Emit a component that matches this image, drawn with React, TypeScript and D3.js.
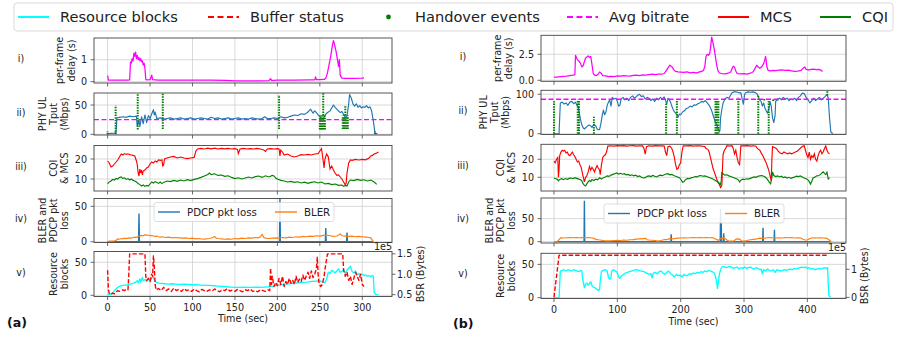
import React, { useEffect } from 'react';
import * as d3 from 'd3';

type Pt = [number, number];
type Ho = [number, number, number];

// ---------------- (a) data, time in sec ----------------
const delayA: Pt[] = [[0,0.28],[1,0.07],[4,0.07],[8,0.07],[16,0.07],[24,0.07],[26,0.08],[27,0.9],[28,0.85],[29,1.05],[30,0.95],[31,1.3],[32,1.15],[33,1.35],[34,1.05],[35,1.2],[36,1.0],[37,1.1],[38,0.95],[39,1.05],[40,0.9],[41,0.95],[42,0.75],[43,0.85],[44,0.6],[45,0.1],[46,0.08],[50,0.09],[52,0.3],[53,0.09],[56,0.08],[60,0.07],[80,0.07],[100,0.07],[120,0.07],[140,0.06],[150,0.04],[160,0.04],[180,0.04],[190,0.05],[192,0.14],[193,0.06],[195,0.06],[200,0.07],[220,0.07],[240,0.08],[244,0.08],[245,0.22],[246,0.09],[250,0.09],[255,0.1],[257,0.15],[259,0.4],[261,0.8],[263,1.2],[265,1.7],[266,1.87],[267,1.75],[269,1.4],[271,0.95],[272,0.7],[273,1.0],[274,0.3],[276,0.16],[280,0.15],[290,0.15],[300,0.16],[302,0.17]];

const tputA: Pt[] = [[0,1],[4,1.5],[8,2],[10,3],[11,28],[14,29],[18,30],[22,29],[26,31],[30,30],[34,31],[35,14],[37,25],[38,13],[40,30],[42,18],[44,33],[46,20],[48,32],[50,27],[52,35],[54,42],[55,33],[56,38],[58,27],[62,28],[66,26],[70,27],[74,28],[78,26],[82,27],[86,28],[90,26],[94,27],[98,28],[102,26],[106,27],[110,28],[114,27],[118,26],[122,29],[126,27],[130,28],[134,26],[138,27],[142,28],[146,26],[150,27],[154,28],[158,26],[162,27],[166,26],[170,28],[174,27],[178,26],[182,27],[185,30],[188,27],[192,27],[196,28],[200,27],[204,30],[208,28],[212,29],[216,31],[220,33],[224,32],[228,35],[232,34],[236,38],[239,43],[242,36],[244,40],[246,37],[248,33],[250,30],[252,28],[254,26],[256,32],[258,36],[260,38],[262,40],[264,45],[266,50],[268,46],[270,43],[272,40],[274,37],[276,39],[278,34],[280,29],[282,31],[284,52],[285,68],[287,62],[289,52],[291,48],[293,52],[295,46],[297,49],[299,45],[301,47],[303,46],[305,49],[307,45],[309,47],[311,40],[313,23],[315,2],[318,1]];

const hoA: Ho[] = [[0,0,5],[9.5,0,49],[35.5,8,70],[65,9,70],[202,9,67],[254,32,70],[250,8,32],[251.5,8,32],[253,8,32],[254.5,8,32],[256,8,32],[280,32,49],[277,9,32],[278.5,9,32],[280,9,32],[281.5,9,32],[283,9,32],[315,0,5]];

const mcsA: Pt[] = [[0,19],[2,18],[4,16],[6,16.5],[8,17.5],[10,18.5],[12,19.5],[14,21],[16,22.5],[18,22],[20,22.7],[22,22.3],[24,22.6],[26,22.2],[28,22],[30,21.8],[32,21.5],[34,19],[35,17],[36,13],[37,11.5],[38,15],[39,13],[40,14.5],[41,12],[42,14],[44,14.5],[46,15.5],[48,16],[50,17.5],[52,18.5],[54,18],[56,19],[58,18.5],[60,19.5],[62,19.3],[64,19.5],[65,16.5],[66,17],[67,20],[70,20.5],[74,21],[78,21.3],[82,20.5],[86,21],[90,20.5],[94,20.2],[98,20.5],[102,20.8],[104,24],[106,25],[110,25.3],[114,25],[118,25.4],[122,25.1],[126,25.4],[130,25],[134,25.3],[138,25.1],[142,25.3],[146,25],[150,25.2],[153,24.8],[154,22.7],[156,25],[160,25.3],[164,25],[168,25.2],[172,25],[176,25.3],[180,25],[184,24.5],[186,23.8],[188,25],[192,25.2],[196,25],[200,25.2],[202,25],[203,21.5],[204,24.5],[206,23.5],[208,22],[212,22.5],[216,21.5],[220,21],[224,21.5],[228,22.2],[232,22],[236,22.3],[240,22],[244,22.5],[248,22.7],[250,24],[252,25.2],[253,22],[254,19],[255,15.5],[256,20],[258,22.5],[260,21],[261,18],[262,15],[264,16.5],[266,14.5],[268,13],[270,11.8],[272,12],[274,11],[276,10],[278,8.5],[280,7],[281,8],[282,13],[284,18],[286,19.5],[288,19.3],[292,19.8],[296,19.5],[300,19.8],[304,19.6],[308,20.5],[310,21.5],[312,21.8],[314,22.5],[316,22.8],[319,23.5]];

const cqiA: Pt[] = [[0,7.5],[2,8.5],[4,9],[6,9.8],[8,9.5],[10,10.3],[12,10],[14,10.8],[16,11],[18,10.3],[20,10.6],[22,9.8],[24,10.2],[26,9.5],[28,10],[30,9.3],[32,9],[34,8.5],[36,7.7],[38,7.2],[40,6.5],[42,7],[44,6.3],[46,6.8],[48,6.5],[50,7.5],[52,8.5],[54,8],[56,8.7],[58,8.2],[60,7.8],[62,8.5],[64,7.7],[66,8.3],[70,9],[74,8.7],[78,9.3],[82,8.8],[86,9.5],[90,9],[94,9.7],[98,9.2],[102,9.8],[106,10.2],[110,10.8],[114,11.5],[118,12.3],[120,13],[122,12.2],[126,12.6],[130,11.8],[134,12],[138,11.3],[142,11.6],[146,10.8],[150,10.2],[154,10.6],[158,10],[162,10.5],[166,11],[170,10.5],[174,11.2],[178,11.5],[182,10.8],[186,11.6],[190,11],[194,11.8],[196,11.5],[198,10.5],[200,10],[204,9.3],[208,9],[212,8.5],[216,8.8],[220,8.3],[224,8.6],[228,8],[232,8.4],[236,7.8],[240,8.3],[244,8.6],[248,8],[252,8.5],[256,7.5],[260,7.8],[264,7.2],[268,7.5],[272,6.8],[276,7],[278,6.3],[280,6.8],[282,6.5],[284,8.5],[286,9.5],[290,9.2],[294,9.8],[298,9.3],[302,9.6],[306,9],[310,9.5],[314,8.5],[317,7.3]];

const pdcpA: Pt[] = [[0,0],[36.5,0],[37,40],[37.5,0],[202.5,0],[203,61],[203.5,0],[256.5,0],[257,19.5],[257.5,0],[281.5,0],[282,13],[282.5,0],[313,0]];

const blerA: Pt[] = [[0,0.5],[4,0.8],[8,1],[10,2],[12,4],[14,3.5],[16,4.5],[18,4],[20,5],[22,4.5],[24,5],[26,5.5],[28,5],[30,6],[32,6.5],[34,6],[36,7.5],[38,8],[40,9],[42,8.5],[44,10],[46,9],[48,9.5],[50,8.5],[52,9],[54,8],[56,7.5],[58,8],[60,7],[62,6.5],[64,7],[68,6],[72,6.5],[76,5.5],[80,6],[84,5.5],[88,5],[92,5.5],[96,4.5],[100,5],[104,4],[108,4.5],[112,3.5],[116,4],[120,4.5],[124,6],[126,7.5],[128,5],[130,4.5],[134,4],[138,3.5],[142,4],[146,3.5],[150,4.5],[154,4],[158,5],[162,4.5],[166,5.5],[170,5],[174,6],[178,5.5],[180,7],[182,10.5],[184,6],[186,5],[190,4.5],[194,5],[198,5.5],[202,5],[206,6],[210,5.5],[214,6.5],[218,6],[222,7],[226,6.5],[230,7.5],[234,7],[238,8],[242,7.5],[246,8.5],[250,8],[254,9],[258,9.5],[262,8.5],[266,7.5],[270,8],[272,9.5],[274,11],[276,8.5],[280,8],[284,7.5],[288,8],[292,7],[296,7.5],[300,7],[304,6.5],[308,6],[310,5.5],[312,2],[313,0.5]];

const rbA: Pt[] = [[0,1],[3,1.5],[5,3],[7,5],[9,8],[11,11],[13,13],[15,14],[18,15],[21,15.5],[24,16],[27,17],[30,18],[33,20],[35,22],[36,19],[38,25],[39,20],[41,27],[42,22],[44,24],[46,21],[48,24],[50,22],[52,26],[54,28],[55,23],[57,20],[60,18.5],[64,18],[68,17.5],[72,17],[76,17.5],[80,17],[85,16.5],[90,17],[95,16.5],[100,16],[105,16],[110,15.5],[115,15],[120,15],[125,14.5],[130,14],[135,13.5],[140,13],[145,12.5],[150,12],[155,12],[160,12.5],[165,12],[170,12],[175,12.5],[180,12],[185,12.5],[190,13],[195,14],[200,15],[205,16],[210,17],[215,17.5],[220,18.5],[225,19],[230,19.5],[235,20],[240,21],[245,21.5],[250,22],[253,20],[256,19],[258,25],[260,35],[262,33],[264,38],[266,36],[268,34],[270,37],[272,40],[274,35],[276,36],[278,39],[280,33],[282,38],[284,41],[286,44],[288,36],[290,34],[292,37],[294,31],[296,33],[298,31],[300,32],[302,30],[304,31],[306,29],[308,30],[310,28],[312,30],[313,29],[314,4],[316,1],[319,1]];

const bsrA: Pt[] = [[0,1.1],[1,0.62],[2,0.53],[4,0.5],[6,0.54],[8,0.52],[10,0.56],[12,0.6],[14,0.58],[16,0.6],[18,0.62],[20,0.6],[22,0.63],[24,0.62],[25,1.0],[26,1.5],[44,1.5],[45,0.95],[46,0.85],[48,0.9],[50,0.82],[52,1.0],[53,0.95],[54,1.45],[55,1.2],[56,0.75],[57,0.62],[60,0.65],[63,0.6],[66,0.68],[69,0.6],[72,0.64],[75,0.58],[78,0.66],[81,0.6],[84,0.63],[87,0.58],[90,0.65],[93,0.6],[96,0.62],[99,0.58],[102,0.64],[105,0.6],[108,0.57],[111,0.63],[114,0.6],[117,0.58],[120,0.62],[123,0.59],[126,0.64],[129,0.6],[132,0.57],[135,0.62],[138,0.6],[141,0.65],[144,0.59],[147,0.61],[150,0.58],[153,0.63],[156,0.6],[159,0.57],[162,0.62],[165,0.6],[168,0.64],[171,0.58],[174,0.6],[177,0.57],[180,0.62],[183,0.6],[186,0.58],[189,0.62],[191,0.6],[192,1.15],[193,0.75],[194,0.95],[196,0.7],[198,0.8],[200,0.72],[202,0.9],[204,0.75],[206,0.95],[208,0.7],[210,0.82],[212,0.75],[214,0.9],[216,0.78],[218,0.85],[220,0.75],[222,0.95],[224,0.8],[226,0.88],[228,0.82],[230,0.98],[232,0.85],[234,0.95],[236,1.05],[238,0.9],[240,1.08],[242,0.92],[244,1.0],[246,1.15],[247,1.42],[248,1.0],[249,0.78],[251,0.7],[253,0.75],[255,0.95],[257,1.25],[259,1.5],[277,1.5],[278,1.1],[280,0.95],[282,1.05],[284,0.85],[286,0.95],[288,0.75],[290,0.9],[292,1.05],[294,0.95],[296,0.85],[298,1.0],[300,0.75],[302,0.7]];

// ---------------- (b) data ----------------
const delayB: Pt[] = [[0,0.3],[5,0.3],[10,0.35],[15,0.38],[20,0.4],[25,0.45],[30,0.5],[33,0.55],[34,2.4],[36,2.1],[38,1.9],[40,1.8],[42,1.6],[44,1.28],[46,1.4],[48,1.8],[50,2.15],[52,2.25],[54,2.35],[56,2.2],[58,2.3],[60,1.5],[62,0.65],[64,0.5],[67,0.45],[70,0.6],[72,0.8],[74,0.7],[77,0.45],[82,0.42],[86,0.35],[90,0.38],[95,0.35],[100,0.42],[105,0.4],[110,0.45],[115,0.42],[120,0.4],[125,0.48],[130,0.5],[135,0.45],[140,0.52],[145,0.5],[150,0.55],[155,0.6],[160,0.55],[165,0.6],[170,0.58],[174,0.65],[177,0.9],[180,1.2],[183,1.45],[185,1.35],[187,1.25],[189,1.0],[192,0.85],[196,0.8],[200,0.78],[205,0.75],[210,0.8],[215,0.72],[220,0.75],[225,0.72],[230,0.8],[233,0.85],[236,0.95],[238,1.3],[240,2.3],[242,2.5],[244,2.4],[246,2.6],[248,3.6],[249,4.15],[251,3.6],[253,3.0],[255,2.2],[257,1.4],[259,0.9],[261,0.7],[265,0.65],[270,0.62],[275,0.68],[279,0.8],[281,1.1],[283,1.35],[285,1.25],[287,0.9],[289,0.65],[295,0.62],[300,0.65],[305,0.6],[310,0.68],[314,0.8],[317,1.1],[320,1.45],[322,1.3],[325,1.15],[328,1.3],[331,1.6],[333,2.0],[334,2.3],[335,1.9],[336,1.3],[338,0.95],[342,0.9],[346,0.95],[350,0.92],[355,0.98],[360,1.0],[365,0.95],[370,0.98],[375,0.9],[380,0.85],[385,0.88],[390,0.95],[393,1.15],[396,1.28],[398,1.05],[402,1.0],[406,1.05],[410,1.08],[414,1.02],[418,1.05],[422,0.95],[424,0.85]];

const tputB: Pt[] = [[0,0],[4,0],[8,0],[9,40],[10,78],[13,80],[16,75],[19,78],[22,72],[25,80],[28,82],[31,76],[34,80],[36,72],[38,70],[40,52],[42,35],[44,22],[46,15],[48,12],[50,15],[52,18],[55,22],[58,20],[60,16],[63,24],[66,20],[68,12],[70,10],[72,11],[74,25],[76,45],[78,60],[80,48],[82,55],[84,72],[86,80],[88,85],[90,70],[92,92],[95,88],[98,90],[100,82],[102,70],[104,72],[106,88],[109,92],[112,86],[115,90],[118,84],[121,92],[124,96],[127,90],[130,94],[133,98],[135,100],[138,94],[141,96],[144,88],[147,92],[150,90],[153,84],[156,88],[159,82],[162,90],[165,86],[168,92],[171,88],[174,93],[176,85],[178,75],[180,90],[182,86],[184,80],[186,70],[188,62],[190,56],[192,52],[194,48],[196,42],[198,50],[200,48],[203,55],[206,58],[209,64],[212,66],[215,70],[218,68],[221,73],[224,72],[227,76],[230,78],[233,82],[236,80],[239,84],[242,78],[245,72],[247,66],[249,58],[251,48],[253,38],[255,28],[257,22],[259,12],[261,5],[262,8],[263,40],[265,62],[267,78],[270,88],[273,92],[276,90],[279,98],[281,104],[284,106],[287,106],[290,105],[293,103],[295,104],[297,88],[299,75],[301,100],[303,104],[306,106],[310,105],[314,106],[318,104],[321,100],[323,92],[325,85],[327,82],[329,70],[331,78],[333,65],[335,58],[337,52],[339,62],[341,82],[343,70],[345,40],[347,28],[349,45],[350,82],[353,88],[356,90],[359,86],[362,92],[365,88],[368,90],[371,84],[374,88],[377,86],[380,90],[383,84],[386,92],[389,96],[392,103],[395,102],[398,92],[401,86],[404,78],[407,84],[410,90],[413,84],[416,88],[419,92],[422,86],[425,90],[428,94],[431,100],[433,90],[435,40],[437,5],[440,0]];

const hoB: Ho[] = [[0,0,82],[37.5,0,86],[39.5,0,86],[63,0,43],[177,0,76],[194,0,85],[255,0,85],[257,0,85],[259.5,0,85],[291,0,93],[322.5,0,97],[332,84,88],[339,0,85],[346,83,87],[353,84,87],[431.5,97,108]];

const mcsB: Pt[] = [[0,19],[2,18],[4,20],[6,21],[7,10],[8,14],[9,22],[11,24],[13,25],[15,24.5],[17,25],[19,23.5],[21,24],[23,22.5],[25,22],[27,23],[29,24],[31,22.5],[33,21.5],[35,20],[37,18.5],[39,19],[41,17],[43,15.5],[45,12],[47,9],[48,7.5],[50,10],[52,11],[54,13],[56,16],[58,14],[60,15.5],[62,14.5],[64,13],[66,15],[68,16.5],[70,15],[72,14],[73,11.5],[75,17],[77,21],[79,22],[81,22.5],[83,24],[85,27.3],[90,27.5],[95,27.3],[100,27.6],[105,27.4],[110,27.6],[115,27.3],[120,27.5],[125,27.6],[130,27.3],[135,27.5],[140,27.4],[142,26],[144,22.8],[146,27],[150,27.5],[155,27.3],[160,27.6],[165,27.4],[170,27.5],[174,27.3],[176,24],[178,22],[180,27],[183,27.3],[186,26],[188,24],[190,21],[192,17],[194,14.5],[196,15],[198,17],[200,18],[202,24],[204,27.5],[210,27.4],[215,27.6],[220,27.3],[225,27.5],[230,27.4],[235,27.2],[238,27],[240,26],[243,25.5],[245,24],[247,21],[249,18],[251,15],[253,13],[255,11],[257,9],[259,7],[261,6],[263,4.3],[265,5.5],[266,15],[267,22.8],[269,25],[271,26],[273,27.5],[277,27.3],[281,27.5],[283,26],[285,23],[287,25],[289,21],[291,18],[293,17],[294,22],[295,27.5],[300,27.4],[305,27.6],[310,27.3],[315,27.5],[319,27.2],[321,26],[323,25.5],[325,25],[327,23.5],[329,22.5],[331,21],[333,19.5],[335,18],[337,16],[339,14],[341,11],[343,8],[344,20],[345,27],[348,26.5],[351,26],[354,24.5],[357,23.5],[360,23],[363,24],[366,23.5],[369,23],[372,23.5],[375,23],[378,23.5],[381,24],[384,24.5],[387,25.5],[390,26.5],[393,27.3],[395,27.5],[397,25],[399,22.5],[401,21],[403,24],[405,20],[407,22],[409,21],[411,23],[413,20],[415,19],[417,22],[419,24],[421,25],[423,23],[425,24],[427,26],[429,27.3],[431,25],[433,23.5],[435,23]];

const cqiB: Pt[] = [[0,9.5],[3,9.2],[5,9],[7,8],[9,8.8],[12,9.2],[15,8.7],[18,9.3],[21,8.9],[24,9.4],[27,9.6],[30,9.2],[33,9.8],[36,9.4],[39,9],[42,8.6],[44,8],[46,6.5],[48,5.5],[50,5.2],[52,6.5],[54,7.5],[56,8.3],[58,7.6],[60,8.8],[63,8.2],[66,9],[69,8.6],[72,9.7],[75,9],[78,9.8],[81,10.2],[84,10.8],[87,10.5],[90,11.2],[93,11.6],[96,12],[99,12.4],[102,11.8],[105,12.2],[108,11.7],[111,12],[114,11.4],[117,11.6],[120,11],[123,11.4],[126,10.8],[129,11.2],[132,10.4],[135,10.8],[138,10],[141,9.6],[144,9.8],[147,10.5],[150,10.8],[153,10.4],[156,11],[159,10.6],[162,10.2],[165,10.8],[168,11.2],[171,10.9],[174,11.4],[177,11.8],[180,12],[183,11.4],[186,11.6],[189,11],[192,10.6],[195,10.2],[198,9.8],[201,8.5],[203,7.2],[205,7.5],[208,8.8],[211,9.4],[214,9.2],[217,9.8],[220,10],[223,10.4],[226,10.2],[229,10.8],[232,11],[235,10.6],[238,10.8],[241,10.4],[244,10],[247,9.6],[250,9.2],[253,8.6],[256,8],[259,7.4],[261,6.8],[263,6],[264,8],[265,12.6],[267,12],[270,11.2],[273,11.4],[276,10.8],[279,10.4],[282,10],[285,9.6],[288,9.2],[291,8.6],[293,7.4],[295,8.4],[298,9],[301,8.8],[304,9.2],[307,9],[310,9.4],[313,9.8],[316,10.2],[319,10],[322,10.6],[325,10.8],[328,11],[331,10.6],[334,10],[337,8.8],[340,7.2],[342,6.4],[344,10],[345,13],[347,11],[350,10.4],[353,10.8],[356,10.2],[359,10.6],[362,9.8],[365,10.2],[368,9.6],[371,10],[374,9.4],[377,9.8],[380,10.2],[383,10.6],[386,10.4],[389,10.8],[392,10.2],[395,9.6],[398,9.2],[401,8.6],[403,7.6],[405,6.2],[407,7.8],[409,9.6],[412,10.2],[415,10.8],[418,11],[421,11.6],[423,12.4],[425,13],[427,12.2],[429,11.5],[431,12.8],[433,9],[435,9.8]];

const pdcpB: Pt[] = [[0,0],[47.5,0],[48,89],[48.5,0],[184.5,0],[185,16],[185.5,0],[262.5,0],[263,71],[263.5,0],[264,43],[264.5,0],[267.5,0],[268,18],[268.5,0],[329.5,0],[330,30],[330.5,0],[347.5,0],[348,26],[348.5,0],[436,0]];

const blerB: Pt[] = [[0,0],[5,0],[7,3],[9,6],[11,8.5],[15,8],[20,8.5],[25,9],[30,8.5],[35,9],[40,8.5],[45,9],[50,8.5],[55,9],[60,8],[63,7],[66,5],[70,4],[75,3],[80,2],[85,1.5],[90,2],[95,2.5],[100,3],[105,2.5],[110,3.5],[115,3],[120,4],[125,4.5],[130,5.5],[135,6],[140,6.5],[145,7],[147,4],[150,3.5],[155,3],[160,2.5],[163,1],[166,1.5],[170,3],[175,4.5],[180,5],[183,7],[186,6],[190,6.5],[195,7.5],[200,8],[205,8.5],[210,8],[215,8.5],[220,9],[225,8.5],[230,9],[235,8.5],[240,9],[245,8.5],[250,9],[253,7],[256,5],[259,3],[262,5],[265,8],[268,7.5],[271,6],[274,2.5],[277,1],[280,1],[284,1.5],[287,5],[290,6],[293,5.5],[296,2],[299,1],[303,1.5],[306,3],[310,4],[315,5],[320,6],[325,7.5],[330,7],[335,8],[340,9],[345,8.5],[350,8],[355,8.5],[360,8],[365,9],[370,8.5],[375,9],[380,8],[385,8.5],[390,8],[393,5],[396,3.5],[400,3.5],[403,6],[406,8],[410,8.5],[415,8],[420,8.5],[425,8],[430,7.5],[433,5],[436,2],[438,0]];

const rbB: Pt[] = [[0,0],[4,0],[8,0],[9,20],[10,40],[13,41],[16,42],[19,40],[22,42],[25,41],[28,40],[31,42],[34,41],[37,40],[40,39],[42,41],[44,40],[45,30],[46,25],[48,15],[50,20],[52,22],[54,19],[56,21],[58,24],[60,18],[62,16],[64,15],[66,14],[68,12],[70,11],[72,12],[73,25],[75,40],[78,41],[81,42],[84,40],[86,30],[88,28],[90,30],[91,40],[94,42],[97,40],[100,38],[102,31],[104,29],[107,33],[110,35],[113,37],[116,38],[119,39],[122,40],[126,41],[130,42],[134,41],[138,40],[142,39],[146,37],[150,35],[153,36],[155,30],[157,37],[160,38],[163,36],[166,39],[169,40],[172,37],[175,35],[178,38],[181,40],[184,36],[187,34],[190,31],[193,35],[196,33],[199,34],[202,31],[205,35],[208,33],[211,34],[214,36],[217,35],[220,37],[223,36],[226,38],[229,37],[232,39],[235,38],[238,40],[241,39],[244,41],[247,40],[250,39],[253,37],[255,32],[257,22],[258,14],[259,20],[261,35],[263,42],[265,46],[268,47],[271,45],[274,46],[277,47],[280,46],[283,44],[286,45],[289,46],[292,43],[295,45],[298,44],[301,46],[304,44],[307,45],[310,46],[313,44],[316,43],[319,45],[322,44],[325,42],[327,43],[329,36],[331,42],[334,40],[337,43],[340,41],[343,40],[346,42],[349,38],[352,42],[355,41],[358,40],[361,41],[364,42],[367,41],[370,42],[373,43],[376,42],[379,44],[382,43],[385,44],[388,45],[391,46],[394,45],[397,46],[400,44],[403,45],[406,43],[409,44],[412,42],[415,43],[418,44],[421,43],[424,44],[427,45],[430,44],[432,45],[433,20],[434,3],[437,1]];

const bsrB: Pt[] = [[0,0],[8,1.5],[432,1.5]];

const avgBitrate = [25, 87.4];
const xTicksA = [0, 50, 100, 150, 200, 250, 300];
const xTicksB = [0, 100, 200, 300, 400];
const romans = ['i)', 'ii)', 'iii)', 'iv)', 'v)'];
const yLabels = [['per-frame', 'delay (s)'], ['PHY UL', 'Tput', '(Mbps)'], ['CQI', '& MCS'], ['BLER and', 'PDCP pkt', 'loss'], ['Resource', 'blocks']];

const FONT = 'DejaVu Sans, Verdana, sans-serif';
const FS = 9.6;
const C = { mag: '#ff00ff', cyan: '#00ffff', red: '#ff0000', green: '#008000', blue: '#1f77b4', orange: '#ff7f0e' };

type Scale = d3.ScaleLinear<number, number>;
const line = (data: Pt[], x: Scale, y: Scale) => d3.line<Pt>().x((d) => x(d[0])).y((d) => y(d[1]))(data) || '';
const textW = (s: string) => s.split('').reduce((a, c) => a + (c === '.' ? 0.318 : 0.636), 0) * FS;

interface Twin { domain: [number, number]; ticks: number[]; fmt: (v: number) => string; label: string; draw: (x: Scale, y: Scale) => React.ReactNode; }
interface PanelProps {
  id: string; top: number; bottom: number; left: number; right: number;
  xDomain: [number, number]; xTicks: number[]; xLabels: boolean;
  yDomain: [number, number]; yTicks: number[]; yFmt?: (v: number) => string;
  roman: string; romanX: number; ylabel: string[];
  draw: (x: Scale, y: Scale) => React.ReactNode; twin?: Twin;
}

function Panel(p: PanelProps) {
  const x = d3.scaleLinear().domain(p.xDomain).range([p.left, p.right]);
  const y = d3.scaleLinear().domain(p.yDomain).range([p.bottom, p.top]);
  const fmt = p.yFmt || ((v: number) => String(v));
  const maxW = d3.max(p.yTicks, (t) => textW(fmt(t))) || 0;
  const lastX = p.left - 7 - maxW - 4 - 0.24 * FS;
  const cy = (p.top + p.bottom) / 2;
  const n = p.ylabel.length;
  let y2: Scale | null = null;
  let twinW = 0;
  if (p.twin) {
    y2 = d3.scaleLinear().domain(p.twin.domain).range([p.bottom, p.top]);
    twinW = d3.max(p.twin.ticks, (t) => textW(p.twin!.fmt(t))) || 0;
  }
  return (
    <g>
      <defs>
        <clipPath id={p.id}><rect x={p.left} y={p.top} width={p.right - p.left} height={p.bottom - p.top} /></clipPath>
      </defs>
      {p.xTicks.map((t) => <line key={'gx' + t} x1={x(t)} x2={x(t)} y1={p.top} y2={p.bottom} stroke="#cfcfcf" strokeWidth={0.8} />)}
      {p.yTicks.map((t) => <line key={'gy' + t} x1={p.left} x2={p.right} y1={y(t)} y2={y(t)} stroke="#cfcfcf" strokeWidth={0.8} />)}
      <g clipPath={`url(#${p.id})`}>
        {p.draw(x, y)}
        {p.twin && y2 && p.twin.draw(x, y2)}
      </g>
      <rect x={p.left} y={p.top} width={p.right - p.left} height={p.bottom - p.top} fill="none" stroke="#444" strokeWidth={0.9} />
      {p.xTicks.map((t) => (
        <g key={'tx' + t}>
          <line x1={x(t)} x2={x(t)} y1={p.bottom} y2={p.bottom + 3.5} stroke="#444" strokeWidth={0.8} />
          {p.xLabels && <text x={x(t)} y={p.bottom + 14.5} textAnchor="middle" fontSize={FS} fill="#222">{t}</text>}
        </g>
      ))}
      {p.yTicks.map((t) => (
        <g key={'ty' + t}>
          <line x1={p.left - 3.5} x2={p.left} y1={y(t)} y2={y(t)} stroke="#444" strokeWidth={0.8} />
          <text x={p.left - 7} y={y(t) + 3.5} textAnchor="end" fontSize={FS} fill="#222">{fmt(t)}</text>
        </g>
      ))}
      <g transform={`translate(${lastX},${cy}) rotate(-90)`}>
        {p.ylabel.map((s, i) => <text key={s} x={0} y={-(n - 1 - i) * 11.2} textAnchor="middle" fontSize={FS} fill="#222">{s}</text>)}
      </g>
      <text x={p.romanX} y={cy + 1.5} textAnchor="middle" fontSize={FS} fill="#222">{p.roman}</text>
      {p.twin && y2 && (
        <g>
          {p.twin.ticks.map((t) => (
            <g key={'t2' + t}>
              <line x1={p.right} x2={p.right + 3.5} y1={y2!(t)} y2={y2!(t)} stroke="#444" strokeWidth={0.8} />
              <text x={p.right + 5} y={y2!(t) + 3.5} textAnchor="start" fontSize={FS} fill="#222">{p.twin!.fmt(t)}</text>
            </g>
          ))}
          <text x={p.right} y={p.top - 2} textAnchor="end" fontSize={FS} fill="#222">1e5</text>
          <g transform={`translate(${p.right + 5 + twinW + 4 + 0.76 * FS},${cy}) rotate(-90)`}>
            <text textAnchor="middle" fontSize={FS} fill="#222">{p.twin.label}</text>
          </g>
        </g>
      )}
    </g>
  );
}

function InnerLegend({ lx, ty }: { lx: number; ty: number }) {
  const h = 19;
  const cy = ty + h / 2;
  return (
    <g>
      <rect x={lx} y={ty} width={180} height={h} rx={2.5} fill="#fff" fillOpacity={0.85} stroke="#d5d5d5" strokeWidth={0.8} />
      <line x1={lx + 4} x2={lx + 26} y1={cy} y2={cy} stroke={C.blue} strokeWidth={1.4} />
      <text x={lx + 33} y={cy + 3.6} fontSize={10.2} fill="#222">PDCP pkt loss</text>
      <line x1={lx + 121} x2={lx + 143} y1={cy} y2={cy} stroke={C.orange} strokeWidth={1.4} />
      <text x={lx + 150} y={cy + 3.6} fontSize={10.2} fill="#222">BLER</text>
    </g>
  );
}

interface ColData {
  delay: Pt[]; tput: Pt[]; ho: Ho[]; avg: number; mcs: Pt[]; cqi: Pt[]; pdcp: Pt[]; bler: Pt[]; rb: Pt[]; bsr: Pt[];
}
interface ColLayout {
  key: string; left: number; right: number; rows: [number, number][]; xDomain: [number, number]; xTicks: number[];
  yDomains: [number, number][]; yTicks: number[][]; yFmt0?: (v: number) => string;
  bsrDomain: [number, number]; bsrTicks: number[]; bsrFmt: (v: number) => string;
  romanX: number; legendX: number; legendY: number; timeY: number; tag: string; tagX: number; tagY: number;
}

function Column({ d, L }: { d: ColData; L: ColLayout }) {
  const plain = (data: Pt[], color: string, w = 1.25, dash?: string) => (x: Scale, y: Scale) => (
    <path d={line(data, x, y)} fill="none" stroke={color} strokeWidth={w} strokeDasharray={dash} strokeLinejoin="round" />
  );
  const draws: ((x: Scale, y: Scale) => React.ReactNode)[] = [
    plain(d.delay, C.mag),
    (x, y) => (
      <g>
        <path d={line(d.tput, x, y)} fill="none" stroke={C.blue} strokeWidth={1.15} strokeLinejoin="round" />
        {d.ho.map((h, i) => (
          <line key={i} x1={x(h[0])} x2={x(h[0])} y1={y(h[1])} y2={y(h[2])} stroke={C.green} strokeWidth={2} strokeDasharray="1.5,1.1" />
        ))}
        <line x1={L.left} x2={L.right} y1={y(d.avg)} y2={y(d.avg)} stroke={C.mag} strokeWidth={1.4} strokeDasharray="5,2.5" />
      </g>
    ),
    (x, y) => (
      <g>
        <path d={line(d.mcs, x, y)} fill="none" stroke={C.red} strokeWidth={1.15} />
        <path d={line(d.cqi, x, y)} fill="none" stroke={C.green} strokeWidth={1.15} />
      </g>
    ),
    (x, y) => (
      <g>
        <path d={line(d.pdcp, x, y)} fill="none" stroke={C.blue} strokeWidth={1.4} />
        <path d={line(d.bler, x, y)} fill="none" stroke={C.orange} strokeWidth={1.15} />
      </g>
    ),
    plain(d.rb, C.cyan, 1.35),
  ];
  const xs = d3.scaleLinear().domain(L.xDomain).range([L.left, L.right]);
  return (
    <g>
      {L.rows.map((r, i) => (
        <Panel
          key={i}
          id={`${L.key}-clip-${i}`}
          top={r[0]} bottom={r[1]} left={L.left} right={L.right}
          xDomain={L.xDomain} xTicks={L.xTicks} xLabels={i === 4}
          yDomain={L.yDomains[i]} yTicks={L.yTicks[i]} yFmt={i === 0 ? L.yFmt0 : undefined}
          roman={romans[i]} romanX={L.romanX} ylabel={yLabels[i]}
          draw={draws[i]}
          twin={i === 4 ? { domain: L.bsrDomain, ticks: L.bsrTicks, fmt: L.bsrFmt, label: 'BSR (Bytes)', draw: plain(d.bsr, C.red, 1.4, '4.5,2') } : undefined}
        />
      ))}
      <InnerLegend lx={L.legendX} ty={L.legendY} />
      <text x={(xs.range()[0] + xs.range()[1]) / 2} y={L.timeY} textAnchor="middle" fontSize={FS} fill="#222">Time (sec)</text>
      <text x={L.tagX} y={L.tagY} fontSize={12.6} fontWeight="bold" fill="#111">{L.tag}</text>
    </g>
  );
}

const layoutA: ColLayout = {
  key: 'a', left: 94, right: 392,
  rows: [[38, 83], [93, 135], [145.5, 191], [198.5, 242.5], [251.5, 296.5]],
  xDomain: [-16, 335], xTicks: xTicksA,
  yDomains: [[-0.06, 1.99], [-1.2, 70.5], [4, 26.75], [-1.1, 61.1], [-1.8, 66.4]],
  yTicks: [[0, 1], [0, 50], [10, 20], [0, 50], [0, 50]],
  bsrDomain: [0.455, 1.557], bsrTicks: [0.5, 1.0, 1.5], bsrFmt: (v) => v.toFixed(1),
  romanX: 21, legendX: 154, legendY: 202.5, timeY: 322, tag: '(a)', tagX: 7, tagY: 326.5,
};
const layoutB: ColLayout = {
  key: 'b', left: 541, right: 846,
  rows: [[35.3, 81.3], [90.3, 134.5], [144.3, 191], [198, 243], [253.3, 298.5]],
  xDomain: [-20.5, 461], xTicks: xTicksB,
  yDomains: [[-0.1, 4.33], [-2, 110], [2.4, 28.3], [-3, 95], [-1.2, 66.6]],
  yTicks: [[0, 2.5], [0, 100], [10, 20], [0, 50], [0, 50]], yFmt0: (v) => v.toFixed(1),
  bsrDomain: [-0.04, 1.57], bsrTicks: [0, 1], bsrFmt: (v) => String(v),
  romanX: 463, legendX: 604, legendY: 204, timeY: 324.5, tag: '(b)', tagX: 453, tagY: 328,
};

const dataA: ColData = { delay: delayA, tput: tputA, ho: hoA, avg: avgBitrate[0], mcs: mcsA, cqi: cqiA, pdcp: pdcpA, bler: blerA, rb: rbA, bsr: bsrA };
const dataB: ColData = { delay: delayB, tput: tputB, ho: hoB, avg: avgBitrate[1], mcs: mcsB, cqi: cqiB, pdcp: pdcpB, bler: blerB, rb: rbB, bsr: bsrB };

const legendItems = [
  { label: 'Resource blocks', color: C.cyan, kind: 'line', x: 18 },
  { label: 'Buffer status', color: C.red, kind: 'dash', x: 208 },
  { label: 'Handover events', color: C.green, kind: 'dot', x: 373 },
  { label: 'Avg bitrate', color: C.mag, kind: 'dash', x: 567 },
  { label: 'MCS', color: C.red, kind: 'line', x: 718 },
  { label: 'CQI', color: C.green, kind: 'line', x: 820 },
];

function TopLegend() {
  const cy = 17;
  return (
    <g>
      <rect x={14} y={3} width={879} height={28} rx={3} fill="#fff" stroke="#d5d5d5" strokeWidth={0.9} />
      {legendItems.map((it) => (
        <g key={it.label}>
          {it.kind === 'dot'
            ? <circle cx={it.x + 15.5} cy={cy} r={2.4} fill={it.color} />
            : <line x1={it.x} x2={it.x + 31} y1={cy} y2={cy} stroke={it.color} strokeWidth={2} strokeDasharray={it.kind === 'dash' ? '6,3.5' : undefined} />}
          <text x={it.x + 42} y={cy + 5} fontSize={14.6} fill="#222">{it.label}</text>
        </g>
      ))}
    </g>
  );
}

export default function App() {
  useEffect(() => {
    document.body.style.margin = '0';
  }, []);
  return (
    <svg width={897} height={340} viewBox="0 0 897 340" fontFamily={FONT} style={{ position: 'absolute', left: 0, top: 0, background: '#fff' }}>
      <rect width={897} height={340} fill="#fff" />
      <TopLegend />
      <Column d={dataA} L={layoutA} />
      <Column d={dataB} L={layoutB} />
    </svg>
  );
}
